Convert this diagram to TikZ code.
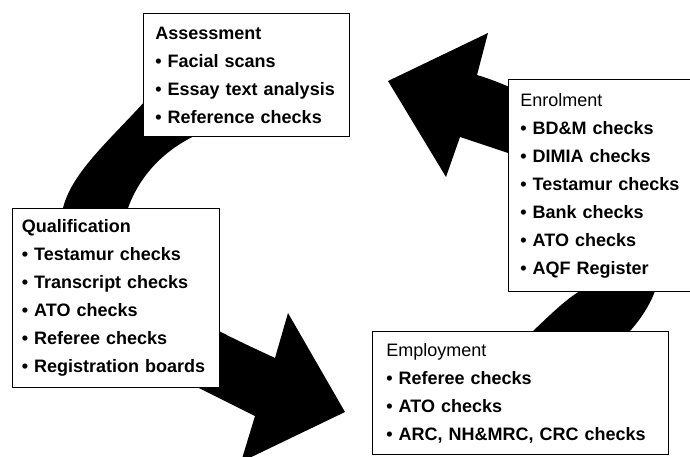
\documentclass[tikz,border=0pt]{standalone}
\usepackage{fontspec}
\setmainfont{Liberation Sans}
\tikzset{
  stagebox/.style={draw=black, line width=0.8pt, fill=white, anchor=north west,
    align=left, inner xsep=12pt, inner ysep=0pt,
    font=\fontsize{18}{28}\selectfont\bfseries},
  bigarrow/.style={fill=black}
}

\begin{document}
\begin{tikzpicture}[x=1pt, y=-1pt]
    \clip (0,0) rectangle (690,457);
    % left arrow: assessment -> qualification -> employment
    \fill[bigarrow] (146,100) .. controls (110,140) and (72,172) .. (63,208)
        .. controls (45,290) and (120,370) .. (197,387)
        -- (255,416) -- (241,462) -- (345,412) -- (288,313) -- (275,358)
        .. controls (258,350) and (236,340) .. (219,331)
        .. controls (150,300) and (118,260) .. (128,208)
        .. controls (140,175) and (165,148) .. (203,132)
        -- (210,100) -- cycle;
    % right arrow: employment -> enrolment -> assessment
    \fill[bigarrow] (388,81) -- (488,33) -- (477,75)
        .. controls (560,100) and (672,180) .. (655,291)
        .. controls (650,305) and (640,320) .. (630,331)
        -- (625,345) -- (540,345) -- (533,331)
        .. controls (550,315) and (565,300) .. (580,291)
        .. controls (600,220) and (570,165) .. (508,153)
        -- (460,137) -- (446,177) -- cycle;

    \node[stagebox, text width=182pt, minimum height=123pt] (assess) at (143,13)
        {Assessment\\• Facial scans\\• Essay text analysis\\• Reference checks};
    \node[stagebox, text width=160pt, minimum height=212pt] (enrol) at (508,79)
        {{\mdseries Enrolment}\\• BD\&M checks\\• DIMIA checks\\• Testamur checks\\• Bank checks\\• ATO checks\\• AQF Register};
    \node[stagebox, inner xsep=9.5pt, text width=188pt, minimum height=179pt] (qual) at (12,208)
        {Qualification\\• Testamur checks\\• Transcript checks\\• ATO checks\\• Referee checks\\• Registration boards};
    \node[stagebox, inner xsep=14pt, text width=268pt, minimum height=123pt] (employ) at (372,331)
        {{\mdseries Employment}\\• Referee checks\\• ATO checks\\• ARC, NH\&MRC, CRC checks};
\end{tikzpicture}
\end{document}
